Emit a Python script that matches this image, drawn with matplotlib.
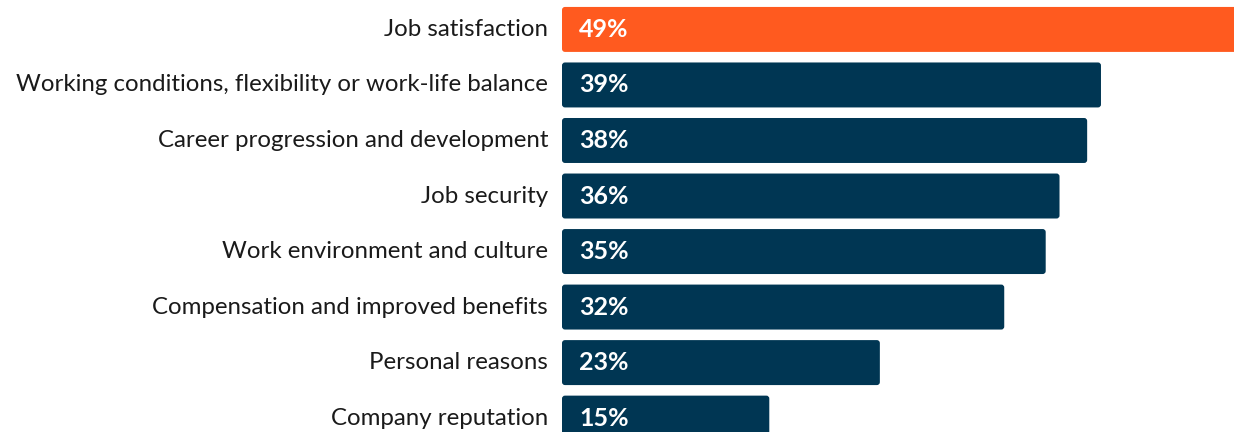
import matplotlib
matplotlib.use("Agg")
import matplotlib.pyplot as plt
from matplotlib.patches import FancyBboxPatch

categories = [
    "Job satisfaction",
    "Working conditions, flexibility or work-life balance",
    "Career progression and development",
    "Job security",
    "Work environment and culture",
    "Compensation and improved benefits",
    "Personal reasons",
    "Company reputation",
]
values = [49, 39, 38, 36, 35, 32, 23, 15]
bar_colors = ["#FF5A1F"] + ["#003653"] * 7

W, H = 1234, 432
fig = plt.figure(figsize=(W / 100, H / 100), dpi=100)
ax = fig.add_axes([562 / W, 0, 1 - 562 / W, 1])

xmax = (W - 562) / 13.82
ax.set_xlim(0, xmax)
ax.set_ylim(7.25, -0.53)
ax.axis("off")

bars = ax.barh(range(len(values)), values, height=0.81, color=bar_colors)
px_x = xmax / (W - 562)
px_y = (7.25 + 0.53) / H
r = 3 * px_x
for b, c in zip(bars, bar_colors):
    x, y = b.get_x(), b.get_y()
    w, h = b.get_width(), b.get_height()
    b.set_visible(False)
    p = FancyBboxPatch((x, y), w, h,
                       boxstyle=f"round,pad=0,rounding_size={r}",
                       mutation_aspect=px_y / px_x,
                       facecolor=c, edgecolor="none", clip_on=True)
    ax.add_patch(p)

for i, (cat, v) in enumerate(zip(categories, values)):
    ax.text(-14 * px_x, i, cat, ha="right", va="center", fontsize=17.3,
            family="Lato", color="#1a1a1a", clip_on=False)
    ax.text(17 * px_x, i, f"{v}%", ha="left", va="center", fontsize=18,
            family="Lato", fontweight="bold", color="white")

fig.savefig("out.png", dpi=100)
